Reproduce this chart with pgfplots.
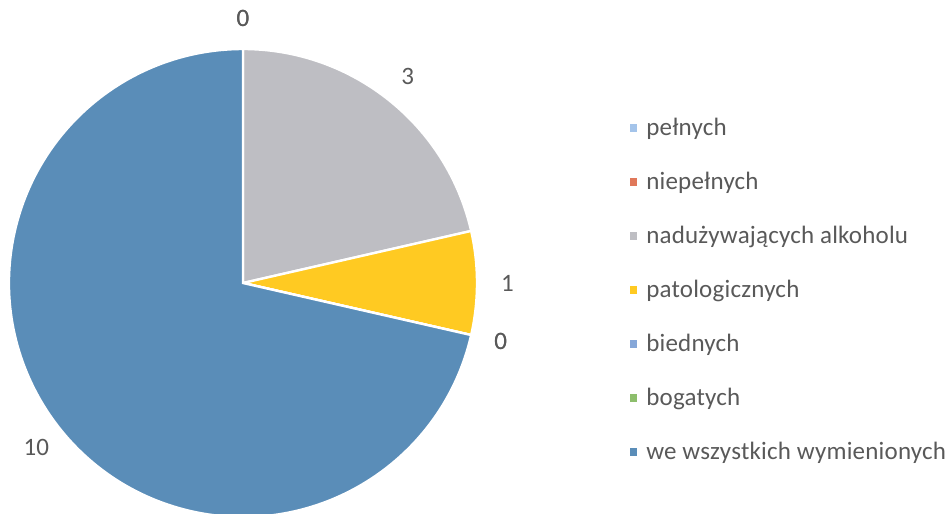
\documentclass[border=0pt]{standalone}
\usepackage{fontspec}
\setmainfont[LetterSpace=0.8]{Carlito}
\usepackage{pgfplots}
\usepackage{pgfplotstable}
\pgfplotsset{compat=1.18}

\definecolor{cPelnych}{HTML}{A4C4EA}
\definecolor{cNiepelnych}{HTML}{E0785A}
\definecolor{cAlkohol}{HTML}{BEBEC3}
\definecolor{cPatolog}{HTML}{FFCA22}
\definecolor{cBiednych}{HTML}{86A7D8}
\definecolor{cBogatych}{HTML}{8DBE6C}
\definecolor{cWszystkie}{HTML}{5A8DB8}
\definecolor{txt}{HTML}{595959}

% values of the pie, in clockwise order from 12 o'clock
\pgfplotstableread[col sep=comma]{
value,color
0,cPelnych
0,cNiepelnych
3,cAlkohol
1,cPatolog
0,cBiednych
0,cBogatych
10,cWszystkie
}\piedata

\def\rad{3.452cm}   % pie radius
\def\lrad{3.9cm}    % label radius
\tikzset{lbl/.style={font=\fontsize{10.5}{12}\selectfont, text=txt}}

\begin{document}
\begin{tikzpicture}
\begin{axis}[
    scale only axis,
    width=14cm, height=7.568cm,
    xmin=0, xmax=949, ymin=0, ymax=513,
    axis lines=none,
    legend style={at={(axis cs:622,405)}, anchor=north west, draw=none, fill=none,
        font=\fontsize{10.5}{12}\selectfont, text=txt, row sep=9.85pt,
        /tikz/every odd column/.append style={column sep=1.8pt}},
    legend cell align=left,
    legend image code/.code={\fill[#1, draw=none] (0pt,-1.5pt) rectangle (3.2pt,1.8pt);},
]
% total of the values
\def\total{0}
\pgfplotsforeachungrouped \i in {0,...,6}{%
  \pgfplotstablegetelem{\i}{value}\of\piedata
  \pgfmathsetmacro\total{\total+\pgfplotsretval}}
% slices and their labels
\def\curang{90}
\pgfplotsforeachungrouped \i in {0,...,6}{%
  \pgfplotstablegetelem{\i}{value}\of\piedata \let\val\pgfplotsretval
  \pgfplotstablegetelem{\i}{color}\of\piedata \let\col\pgfplotsretval
  \pgfmathsetmacro\endang{\curang-\val/\total*360}%
  \pgfmathsetmacro\midang{(\curang+\endang)/2}%
  \edef\temp{\noexpand\fill[fill=\col, draw=white, line width=1pt] (axis cs:243,230) -- ++(\curang:\rad) arc[start angle=\curang, end angle=\endang, radius=\rad] -- cycle;
    \noexpand\path (axis cs:243,230) ++(\midang:\lrad) node[lbl] {\val};}%
  \temp
  \let\curang\endang}
\addlegendimage{fill=cPelnych}\addlegendentry{pełnych}
\addlegendimage{fill=cNiepelnych}\addlegendentry{niepełnych}
\addlegendimage{fill=cAlkohol}\addlegendentry{nadużywających alkoholu}
\addlegendimage{fill=cPatolog}\addlegendentry{patologicznych}
\addlegendimage{fill=cBiednych}\addlegendentry{biednych}
\addlegendimage{fill=cBogatych}\addlegendentry{bogatych}
\addlegendimage{fill=cWszystkie}\addlegendentry{we wszystkich wymienionych}
\end{axis}
\pgfresetboundingbox
\useasboundingbox (current axis.south west) rectangle (current axis.north east);
\end{tikzpicture}
\end{document}
